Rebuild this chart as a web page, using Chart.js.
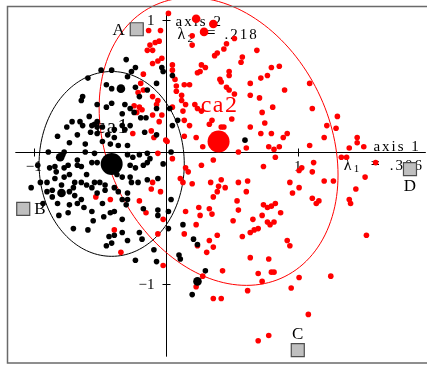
<!DOCTYPE html>
<html>
<head>
<meta charset="utf-8">
<title>s.class</title>
<script src="https://cdn.jsdelivr.net/npm/chart.js@4.4.1/dist/chart.umd.min.js"></script>
<style>
  html, body { margin: 0; padding: 0; background: #ffffff; }
  canvas { display: block; }
</style>
</head>
<body>
<canvas id="classChart" width="427" height="365"></canvas>
<script>
// row scores on axis 1 / axis 2
const classNames = ['ca1', 'ca2'];
const classMeans = [[-0.41, -0.09], [0.40, 0.08]];
const classSd = [[0.55, 0.70], [0.905, 1.09]];
const classCov = [0, -0.23];

const ca1Scores = [
  [-0.30,0.70],[-0.49,0.62],[-0.41,0.62],[-0.59,0.56],[-0.23,0.64],[-0.26,0.61],[-0.29,0.57],[-0.41,0.48],
  [-0.45,0.51],[-0.63,0.42],[-0.64,0.39],[-0.23,0.49],[-0.20,0.42],[-0.41,0.37],[-0.45,0.34],[-0.52,0.36],
  [-0.31,0.36],[-0.27,0.33],[-0.24,0.30],[-0.33,0.29],[-0.19,0.26],[-0.15,0.26],[-0.58,0.27],[-0.65,0.23],
  [-0.71,0.23],[-0.75,0.19],[-0.63,0.20],[-0.52,0.23],[-0.56,0.20],[-0.54,0.21],[-0.52,0.19],[-0.48,0.19],
  [-0.39,0.17],[-0.33,0.20],[-0.27,0.20],[-0.31,0.17],[-0.67,0.13],[-0.82,0.12],[-0.57,0.15],[-0.52,0.14],
  [-0.44,0.13],[-0.39,0.11],[-0.48,0.08],[-0.42,0.06],[-0.61,0.06],[-0.73,0.07],[-0.36,0.05],[-0.29,0.05],
  [-0.16,0.15],[-0.89,0.00],[-0.77,0.00],[-0.61,0.00],[-0.78,-0.02],[-0.54,-0.01],[-0.29,-0.02],[-0.25,-0.04],
  [-0.20,-0.02],[-0.14,-0.01],[-0.12,-0.05],[-0.97,-0.10],[-0.88,-0.12],[-0.84,-0.11],[-0.77,-0.12],[-0.74,-0.10],
  [-0.67,-0.10],[-0.64,-0.11],[-0.67,-0.06],[-0.56,-0.08],[-0.52,-0.08],[-0.27,-0.10],[-0.23,-0.12],[-0.17,-0.10],
  [-0.14,-0.08],[-1.02,-0.27],[-0.95,-0.23],[-0.90,-0.23],[-0.90,-0.30],[-0.86,-0.29],[-0.93,-0.39],[-0.84,-0.20],
  [-0.77,-0.19],[-0.73,-0.17],[-0.83,-0.15],[-0.82,-0.39],[-0.74,-0.46],[-0.73,-0.30],[-0.70,-0.27],[-0.69,-0.33],
  [-0.67,-0.39],[-0.64,-0.36],[-0.64,-0.23],[-0.60,-0.25],[-0.56,-0.27],[-0.54,-0.23],[-0.50,-0.23],[-0.69,-0.23],
  [-0.46,-0.25],[-0.46,-0.29],[-0.39,-0.27],[-0.36,-0.30],[-0.33,-0.36],[-0.37,-0.17],[-0.33,-0.19],[-0.27,-0.19],
  [-0.26,-0.23],[-0.21,-0.23],[-0.14,-0.21],[-0.29,-0.31],[-0.48,-0.39],[-0.56,-0.45],[-0.55,-0.52],[-0.59,-0.59],
  [-0.70,-0.58],[-0.42,-0.46],[-0.39,-0.45],[-0.47,-0.49],[-0.39,-0.63],[-0.45,-0.71],[-0.41,-0.69],[-0.29,-0.67],
  [-0.20,-0.61],[-0.23,-0.82],[-0.09,-0.74],[-0.73,-0.40],[-0.81,-0.48],[-0.33,-0.51],[-0.43,-0.64],[-0.33,-0.61],
  [-0.18,-0.66],[-0.30,-0.40],[-0.29,-0.36],[-0.17,-0.43],[-0.07,-0.83],[-0.06,-0.48],[-0.06,-0.44],[0.02,-0.58],
  [0.04,-0.36],[0.02,-0.45],[0.13,-0.55],[0.10,-0.78],[0.11,-0.81],[0.21,-0.66],[0.24,-0.70],[0.20,-1.08],
  [0.30,-0.90],[-0.03,0.64],[-0.02,0.61],[0.05,0.58],[-0.07,0.52],[-0.07,0.33],[0.03,0.33],[0.09,0.24],
  [0.05,0.20],[-0.07,0.13],[-0.02,-0.09],[0.04,0.00],[-0.06,-0.20],[0.60,0.09],[-0.14,0.47],
  [-0.86,-0.34],[-0.62,-0.42],[-0.52,-0.31],[-0.79,-0.25],[-0.60,-0.17]
];
const ca1Repeated = [[-0.34,0.48],[-0.79,-0.31],[0.24,-0.98],[-0.80,-0.04]];

const ca2Scores = [
  [0.02,1.05],[-0.04,0.92],[-0.13,0.92],[-0.05,0.84],[0.20,0.88],[0.20,0.81],[0.52,0.86],[0.46,0.82],
  [0.44,0.78],[0.39,0.75],[0.37,0.73],[0.69,0.77],[0.58,0.72],[0.57,0.68],[0.27,0.66],[0.26,0.61],
  [0.30,0.64],[0.24,0.60],[0.48,0.61],[0.48,0.58],[0.80,0.64],[0.86,0.65],[0.41,0.55],[0.42,0.53],
  [0.72,0.56],[0.77,0.58],[0.46,0.49],[0.48,0.47],[0.64,0.52],[0.64,0.43],[0.52,0.44],[0.90,0.47],
  [0.71,0.41],[1.09,0.52],[0.81,0.34],[1.11,0.33],[0.73,0.30],[0.50,0.25],[0.75,0.22],[0.42,0.19],
  [0.44,0.19],[0.64,0.19],[1.30,0.27],[1.22,0.20],[1.29,0.18],[0.80,0.14],[0.92,0.14],[0.89,0.11],
  [1.20,0.11],[1.09,0.05],[0.61,0.03],[0.55,0.00],[0.78,0.04],[0.82,0.02],[0.83,-0.04],[0.86,0.04],
  [1.39,0.03],[1.45,0.11],[1.45,0.07],[1.50,0.04],[1.33,-0.04],[1.37,-0.04],[1.59,-0.08],[1.12,-0.08],
  [1.03,-0.12],[1.01,-0.14],[0.74,-0.11],[0.72,0.14],
  [-0.03,0.71],[-0.06,0.69],[-0.10,0.67],[-0.12,0.81],[-0.14,0.77],[-0.10,0.77],[-0.08,0.83],[0.05,0.66],
  [0.05,0.62],[0.07,0.55],[0.08,0.50],[0.08,0.46],[0.12,0.43],[0.12,0.39],[0.14,0.51],[0.18,0.51],
  [0.15,0.36],[-0.07,0.36],[-0.06,0.39],[-0.03,0.28],[0.13,0.31],[0.22,0.36],[0.24,0.33],[0.27,0.31],
  [0.14,0.24],[0.35,0.24],[0.33,0.21],[0.18,0.20],[0.14,0.12],[0.23,0.11],[0.28,0.04],[0.01,0.08],
  [-0.05,0.23],[0.05,0.34],[-0.19,0.52],[-0.17,0.59],[-0.21,0.45],[-0.17,0.47],[-0.24,0.35],[-0.20,0.34],
  [-0.18,0.32],[-0.22,0.30],[-0.10,0.42],[-0.10,0.28],[-0.11,0.16],[-0.09,0.11],[0.00,0.09],[-0.25,0.14],
  [-0.06,-0.01],
  [-0.11,-0.28],[-0.10,-0.23],[-0.20,-0.37],[-0.15,-0.46],[-0.39,-0.59],[-0.34,-0.76],[-0.53,-0.34],[-0.42,-0.36],
  [-0.06,-0.62],[-0.02,-0.86],[-0.02,-0.51],[-0.04,-0.30],[0.15,-0.45],[0.14,-0.62],[0.23,-0.55],[0.26,-0.48],
  [0.33,-0.43],[0.35,-0.47],[0.25,-0.42],[0.33,-0.67],[0.31,-0.76],[0.36,-0.72],[0.28,-0.94],[0.23,-1.02],
  [0.36,-1.11],[0.42,-1.11],[0.36,-0.06],[0.27,-0.10],[0.15,-0.12],[0.17,-0.15],[0.11,-0.20],[0.13,-0.23],
  [0.05,-0.05],[0.20,-0.24],[0.34,-0.23],[0.42,-0.21],[0.40,-0.26],[0.39,-0.30],[0.45,-0.27],[0.55,-0.23],
  [0.62,-0.22],[0.61,-0.30],[0.36,-0.34],[0.54,-0.37],[0.55,-0.44],[0.51,-0.52],[0.39,-0.63],[0.94,-0.23],
  [0.96,-0.31],[0.82,-0.53],[0.79,-0.55],[0.73,-0.48],[0.74,-0.40],[0.77,-0.42],[0.80,-0.41],[0.83,-0.39],
  [0.87,-0.46],[0.66,-0.51],[0.77,-0.53],[0.70,-0.58],[0.67,-0.59],[0.64,-0.61],[0.58,-0.64],[1.01,-0.27],
  [1.52,-0.63],[0.92,-0.67],[0.94,-0.71],[0.64,-0.80],[0.78,-0.81],[0.70,-0.92],[0.80,-0.91],[0.82,-0.91],
  [0.43,-0.90],[0.73,-0.98],[0.62,-1.05],[1.01,-0.95],[0.95,-1.03],[1.25,-0.94],[1.08,-1.23],[0.78,-1.39],
  [0.70,-1.43],[1.20,-0.22],[1.27,-0.22],[1.11,-0.15],[1.51,-0.19],[1.44,-0.28],[1.11,-0.35],[1.16,-0.37],
  [1.14,-0.39],[1.39,-0.36],[1.40,-0.39],[0.24,-0.71]
];
const ca2Repeated = [[0.23,1.01],[0.36,0.97],[0.29,0.91]];

const supNames = ['A', 'B', 'C', 'D'];
const supScores = [[-0.22, 0.93], [-1.08, -0.43], [1.00, -1.50], [1.85, -0.13]];

const axisTicks = [-1, 1];
const axisSpanX = [-1.14, 1.97];
const axisSpanY = [-1.55, 1.06];
const eigenvalues = ['.306', '.218'];

const classColors = ['#000000', '#ff0000'];
const classFontSize = [21, 24];
const serif = '"Liberation Serif", "DejaVu Serif", serif';

const toPoints = (pairs) => pairs.map(([x, y]) => ({ x, y }));

function drawText(ctx, text, px, py, size, align, baseline, spacing) {
    ctx.font = size + 'px ' + serif;
    ctx.textAlign = align;
    ctx.textBaseline = baseline;
    if ('letterSpacing' in ctx) ctx.letterSpacing = (spacing || 0) + 'px';
    ctx.fillText(text, px, py);
    if ('letterSpacing' in ctx) ctx.letterSpacing = '0px';
}

function traceEllipse(ctx, x, y, mean, sd, cov) {
    const b = cov / sd[0];
    const c = Math.sqrt(sd[1] * sd[1] - b * b);
    ctx.beginPath();
    for (let i = 0; i <= 160; i++) {
        const t = (i / 160) * Math.PI * 2;
        const px = x.getPixelForValue(mean[0] + sd[0] * Math.cos(t));
        const py = y.getPixelForValue(mean[1] + b * Math.cos(t) + c * Math.sin(t));
        if (i === 0) ctx.moveTo(px, py); else ctx.lineTo(px, py);
    }
    ctx.closePath();
    ctx.stroke();
}

const classPlot = {
    id: 'classPlot',
    beforeDatasetsDraw(chart) {
        const { ctx, scales: { x, y } } = chart;
        const ox = Math.round(x.getPixelForValue(0)) + 0.5;
        const oy = Math.round(y.getPixelForValue(0)) + 0.5;
        ctx.save();

        // cross axes with ticks at -1 and 1
        ctx.strokeStyle = '#000';
        ctx.lineWidth = 1;
        ctx.beginPath();
        ctx.moveTo(x.getPixelForValue(axisSpanX[0]), oy);
        ctx.lineTo(x.getPixelForValue(axisSpanX[1]), oy);
        ctx.moveTo(ox, y.getPixelForValue(axisSpanY[1]));
        ctx.lineTo(ox, y.getPixelForValue(axisSpanY[0]));
        axisTicks.forEach(v => {
            const tx = Math.round(x.getPixelForValue(v)) + 0.5;
            const ty = Math.round(y.getPixelForValue(v)) + 0.5;
            ctx.moveTo(tx, oy - 4);
            ctx.lineTo(tx, oy + 4);
            ctx.moveTo(ox - 4, ty);
            ctx.lineTo(ox + 4, ty);
        });
        ctx.stroke();

        ctx.fillStyle = '#000';
        axisTicks.forEach(v => {
            const txt = v < 0 ? '\u2212' + Math.abs(v) : String(v);
            drawText(ctx, txt, x.getPixelForValue(v), oy + 15, 15, 'center', 'middle');
            drawText(ctx, txt, ox - 12, y.getPixelForValue(v) + 1, 15, 'right', 'middle');
        });

        // axis titles and eigenvalues
        const ex = x.getPixelForValue(axisSpanX[1]);
        drawText(ctx, 'axis 1', ex - 5, oy - 1.5, 15, 'right', 'alphabetic', 2);
        drawText(ctx, '\u03bb', ex - 82, oy + 17, 16, 'left', 'alphabetic');
        drawText(ctx, '1', ex - 72, oy + 19, 11, 'left', 'alphabetic');
        drawText(ctx, '=', ex - 55, oy + 16, 16, 'left', 'alphabetic');
        drawText(ctx, eigenvalues[0], ex - 36, oy + 17, 15, 'left', 'alphabetic', 2);

        const ty = y.getPixelForValue(axisSpanY[1]);
        drawText(ctx, 'axis 2', ox + 9, ty + 14, 15, 'left', 'alphabetic', 2);
        drawText(ctx, '\u03bb', ox + 11, ty + 27, 16, 'left', 'alphabetic');
        drawText(ctx, '2', ox + 21, ty + 30, 11, 'left', 'alphabetic');
        drawText(ctx, '=', ox + 40, ty + 26, 16, 'left', 'alphabetic');
        drawText(ctx, eigenvalues[1], ox + 58, ty + 27, 15, 'left', 'alphabetic', 2);

        // class ellipses and labels
        ctx.lineWidth = 1;
        classNames.forEach((name, i) => {
            ctx.strokeStyle = classColors[i];
            traceEllipse(ctx, x, y, classMeans[i], classSd[i], classCov[i]);
            ctx.fillStyle = classColors[i];
            drawText(ctx, name, x.getPixelForValue(classMeans[i][0]) + 1,
                y.getPixelForValue(classMeans[i][1]) - 36, classFontSize[i], 'center', 'middle', 1.5);
        });
        ctx.restore();
    },
    afterDraw(chart) {
        const { ctx, chartArea, scales: { x, y } } = chart;
        ctx.save();
        ctx.fillStyle = '#000';
        supNames.forEach((name, i) => {
            const px = x.getPixelForValue(supScores[i][0]);
            const py = y.getPixelForValue(supScores[i][1]);
            if (name === 'A') drawText(ctx, name, px - 12, py + 1, 17, 'right', 'middle');
            if (name === 'B') drawText(ctx, name, px + 11, py + 1, 17, 'left', 'middle');
            if (name === 'C') drawText(ctx, name, px, py - 16, 17, 'center', 'middle');
            if (name === 'D') drawText(ctx, name, px, py + 17, 17, 'center', 'middle');
        });
        ctx.strokeStyle = '#6a6a6a';
        ctx.lineWidth = 1.5;
        ctx.strokeRect(chartArea.left + 0.5, chartArea.top - 0.5, chartArea.right - chartArea.left + 10,
            chartArea.bottom - chartArea.top + 0.5);
        ctx.restore();
    }
};

const dotStyle = (color, r) => ({
    pointRadius: r,
    pointHoverRadius: r,
    pointBackgroundColor: color,
    pointBorderWidth: 0,
    pointBorderColor: color
});

new Chart(document.getElementById('classChart'), {
    type: 'scatter',
    data: {
        datasets: [
            {
                label: 'supplementary',
                data: toPoints(supScores),
                pointStyle: 'rect',
                pointRadius: 9.2,
                pointBackgroundColor: '#bfbfbf',
                pointBorderColor: '#4d4d4d',
                pointBorderWidth: 1.2
            },
            { label: 'centres', data: toPoints(classMeans), ...dotStyle(classColors, 11) },
            { label: 'ca1 repeated', data: toPoints(ca1Repeated), ...dotStyle(classColors[0], 4.3) },
            { label: 'ca1', data: toPoints(ca1Scores), ...dotStyle(classColors[0], 2.8) },
            { label: 'ca2 repeated', data: toPoints(ca2Repeated), ...dotStyle(classColors[1], 4.3) },
            { label: 'ca2', data: toPoints(ca2Scores), ...dotStyle(classColors[1], 2.8) }
        ]
    },
    options: {
        responsive: false,
        animation: false,
        devicePixelRatio: 1,
        events: [],
        layout: { autoPadding: false, padding: { left: 7, top: 7, right: 0, bottom: 2 } },
        scales: {
            x: { type: 'linear', min: -1.203, max: 1.979, display: false },
            y: { type: 'linear', min: -1.598, max: 1.0985, display: false }
        },
        plugins: {
            legend: { display: false },
            tooltip: { enabled: false }
        }
    },
    plugins: [classPlot]
});
</script>
</body>
</html>
